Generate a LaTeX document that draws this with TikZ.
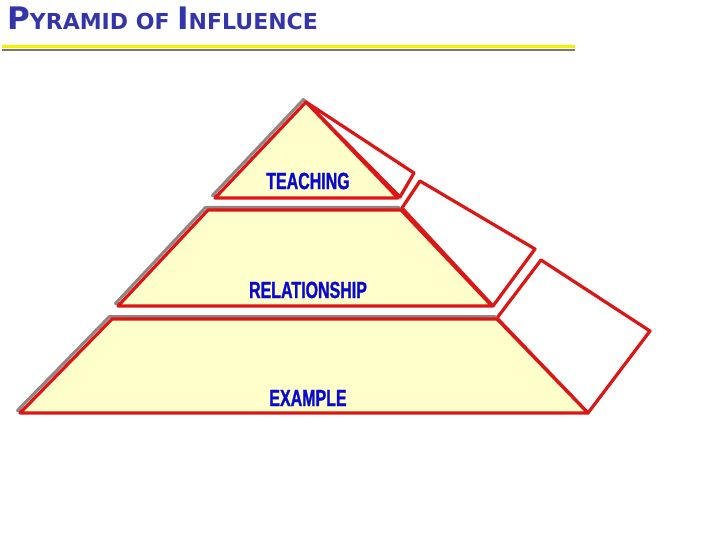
\documentclass[tikz,border=0pt]{standalone}
\usepackage{fontspec}
\newfontfamily\titlefont{DejaVu Sans Bold}
\newfontfamily\labelfont[FakeStretch=0.68,FakeBold=1.2]{Liberation Sans Bold}
\definecolor{pyrred}{HTML}{DD1515}
\definecolor{pyrfill}{HTML}{FFFFCC}
\definecolor{pyrgray}{HTML}{908585}
\definecolor{pyrblue}{HTML}{0A0ACC}
\definecolor{titleblue}{HTML}{3535AA}
\definecolor{ruleyellow}{HTML}{F5F000}
\definecolor{ruleolive}{HTML}{7A7A50}

\begin{document}
\begin{tikzpicture}[x=1pt, y=-1pt,
    layer/.style={draw=pyrred, line width=3.2pt, line join=round, fill=pyrfill},
    sideface/.style={draw=pyrred, line width=3.2pt, line join=round, fill=white},
    shade/.style={draw=pyrgray, line width=3pt, line join=round},
    word/.style={font=\labelfont\fontsize{23.5}{23.5}\selectfont, text=pyrblue, inner sep=0}]
    \useasboundingbox (0,0) rectangle (720,540);

    % title
    \node[anchor=base west, text=titleblue, inner sep=0] (title) at (7,30)
      {\titlefont\fontsize{31}{31}\selectfont P\fontsize{22}{22}\selectfont YRAMID OF \fontsize{31}{31}\selectfont I\fontsize{22}{22}\selectfont NFLUENCE};

    % rule
    \draw[line width=2pt, ruleolive] (2,50) -- (575,50);
    \draw[line width=3pt, ruleyellow] (2,47) -- (575,47);

    % side faces
    \draw[sideface] (306,102) -- (414,173) -- (400,197) -- cycle;
    \draw[sideface] (402,208) -- (420,181) -- (535,249) -- (493,306) -- cycle;
    \draw[sideface] (497,318) -- (541,260) -- (650,331) -- (588,413) -- cycle;

    % shadows
    \begin{scope}[shift={(-2.5,-2.5)}]
      \draw[shade] (306,102) -- (398,198) -- (215,198) -- cycle;
      \draw[shade] (208,210) -- (401,210) -- (492,306) -- (118,306) -- cycle;
      \draw[shade] (112,319) -- (497,319) -- (588,413) -- (20,413) -- cycle;
    \end{scope}

    % layers
    \draw[layer] (306,102) -- (398,198) -- (215,198) -- cycle;
    \draw[layer] (208,210) -- (401,210) -- (492,306) -- (118,306) -- cycle;
    \draw[layer] (112,319) -- (497,319) -- (588,413) -- (20,413) -- cycle;

    \node[word] (teaching) at (308,181) {TEACHING};
    \node[word] (relationship) at (308,290) {RELATIONSHIP};
    \node[word] (example) at (308,398) {EXAMPLE};

\end{tikzpicture}
\end{document}
